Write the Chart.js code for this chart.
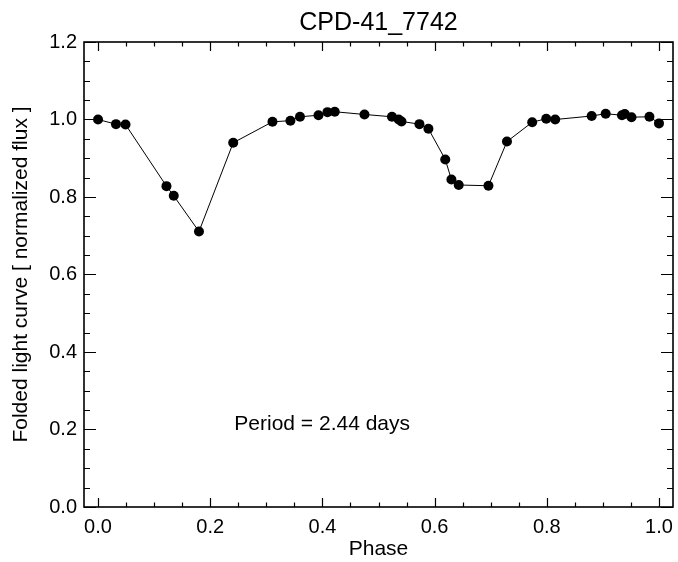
<!DOCTYPE html>
<html>
<head>
<meta charset="utf-8">
<title>CPD-41_7742</title>
<script src="https://cdn.jsdelivr.net/npm/chart.js@4.4.1/dist/chart.umd.min.js"></script>
<style>
  html, body { margin: 0; padding: 0; background: #ffffff; }
  #wrap { width: 678px; height: 562px; }
</style>
</head>
<body>
<div id="wrap"><canvas id="lightChart" width="678" height="562"></canvas></div>
<script>
// Folded light curve data
const phase = [0.000, 0.032, 0.049, 0.122, 0.135, 0.180, 0.241, 0.311, 0.343, 0.360,
               0.393, 0.409, 0.422, 0.475, 0.524, 0.536, 0.541, 0.573, 0.589, 0.619,
               0.630, 0.643, 0.696, 0.729, 0.774, 0.799, 0.815, 0.880, 0.905, 0.934,
               0.939, 0.951, 0.983, 1.000];
const flux = [1.000, 0.988, 0.987, 0.828, 0.803, 0.711, 0.940, 0.994, 0.997, 1.007,
              1.011, 1.019, 1.020, 1.013, 1.007, 1.000, 0.995, 0.988, 0.976, 0.897,
              0.845, 0.831, 0.829, 0.943, 0.993, 1.002, 1.000, 1.009, 1.015, 1.011,
              1.014, 1.006, 1.007, 0.990];

const xTicks = [0.0, 0.2, 0.4, 0.6, 0.8, 1.0];
const yTicks = [0.0, 0.2, 0.4, 0.6, 0.8, 1.0, 1.2];
const periodText = "Period = 2.44 days";
const periodPos = { x: 0.243, y: 0.2 };

const FONT = "'Liberation Sans', Arial, Helvetica, sans-serif";

// IDL style frame: box on all four sides with inward major/minor ticks
const framePlugin = {
    id: "idlFrame",
    afterDraw(chart) {
        const { ctx, chartArea: a, scales } = chart;
        const xs = scales.x, ys = scales.y;
        ctx.save();
        ctx.strokeStyle = "#000";

        ctx.lineWidth = 1.2;
        ctx.beginPath();
        // x ticks (bottom + top), minor every 0.05
        for (let i = 0; i <= 20; i++) {
            const v = i * 0.05;
            const px = Math.round(xs.getPixelForValue(v)) + 0.5;
            const len = (i % 4 === 0) ? 9 : 4.5;
            ctx.moveTo(px, a.bottom); ctx.lineTo(px, a.bottom - len);
            ctx.moveTo(px, a.top); ctx.lineTo(px, a.top + len);
        }
        // y ticks (left + right), minor every 0.05
        for (let i = 0; i <= 24; i++) {
            const v = i * 0.05;
            const py = Math.round(ys.getPixelForValue(v)) + 0.5;
            const len = (i % 4 === 0) ? 12 : 6;
            ctx.moveTo(a.left, py); ctx.lineTo(a.left + len, py);
            ctx.moveTo(a.right, py); ctx.lineTo(a.right - len, py);
        }
        ctx.stroke();

        ctx.lineWidth = 1.6;
        ctx.strokeRect(a.left, a.top, a.right - a.left, a.bottom - a.top);

        // period annotation
        ctx.fillStyle = "#000";
        ctx.font = "21px " + FONT;
        ctx.textAlign = "left";
        ctx.textBaseline = "alphabetic";
        ctx.fillText(periodText, xs.getPixelForValue(periodPos.x), ys.getPixelForValue(periodPos.y));
        ctx.restore();
    }
};

const points = phase.map((p, i) => ({ x: p, y: flux[i] }));

new Chart(document.getElementById("lightChart").getContext("2d"), {
    type: "line",
    data: {
        datasets: [{
            data: points,
            borderColor: "#000",
            borderWidth: 1,
            backgroundColor: "#000",
            pointBackgroundColor: "#000",
            pointBorderColor: "#000",
            pointRadius: 5,
            pointBorderWidth: 0,
            tension: 0,
            fill: false
        }]
    },
    options: {
        responsive: false,
        animation: false,
        layout: { padding: { left: 0, right: 3, top: 0, bottom: 0 } },
        plugins: {
            legend: { display: false },
            tooltip: { enabled: false },
            title: {
                display: true,
                text: "CPD-41_7742",
                color: "#000",
                fullSize: false,
                font: { family: FONT, size: 25, weight: "normal" },
                padding: { top: 8, bottom: 4 }
            }
        },
        scales: {
            x: {
                type: "linear",
                min: -0.025,
                max: 1.025,
                afterFit: s => { s.height = 55; s.paddingLeft = 0; s.paddingRight = 0; },
                afterBuildTicks: s => { s.ticks = xTicks.map(v => ({ value: v })); },
                grid: { display: false, drawTicks: false },
                border: { display: false },
                ticks: {
                    color: "#000",
                    padding: 8,
                    font: { family: FONT, size: 20 },
                    callback: v => Number(v).toFixed(1)
                },
                title: {
                    display: true,
                    text: "Phase",
                    color: "#000",
                    font: { family: FONT, size: 21 },
                    padding: { top: 0, bottom: 0 }
                }
            },
            y: {
                type: "linear",
                min: 0,
                max: 1.2,
                afterFit: s => { s.width = 84; s.paddingTop = 0; s.paddingBottom = 0; },
                afterBuildTicks: s => { s.ticks = yTicks.map(v => ({ value: v })); },
                grid: { display: false, drawTicks: false },
                border: { display: false },
                ticks: {
                    color: "#000",
                    padding: 7,
                    font: { family: FONT, size: 20 },
                    callback: v => Number(v).toFixed(1)
                },
                title: {
                    display: true,
                    text: "Folded light curve [ normalized flux ]",
                    color: "#000",
                    font: { family: FONT, size: 21 },
                    padding: { top: 9, bottom: 0 }
                }
            }
        }
    },
    plugins: [framePlugin]
});
</script>
</body>
</html>
